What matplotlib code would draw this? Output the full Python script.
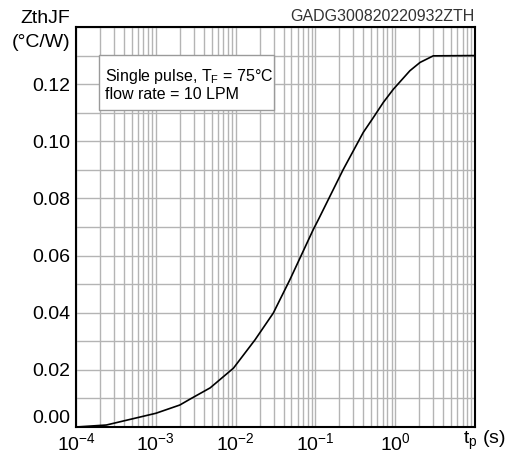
import numpy as np
import matplotlib
matplotlib.use("Agg")
import matplotlib.pyplot as plt
from matplotlib.patches import Rectangle
from matplotlib.ticker import FixedLocator, LogLocator, NullFormatter

plt.rcParams['font.family'] = ['Liberation Sans', 'DejaVu Sans']
plt.rcParams['mathtext.fontset'] = 'custom'
plt.rcParams['mathtext.rm'] = 'Liberation Sans'
plt.rcParams['mathtext.it'] = 'Liberation Sans'

# transient thermal impedance
t_pulse = [1e-4, 2.4e-4, 1e-3, 2e-3, 2.7e-3, 4.8e-3, 9.4e-3, 1.75e-2, 2.97e-2,
           4.8e-2, 9.4e-2, 0.109, 0.194, 0.224, 0.398, 0.532, 0.71, 0.947,
           1.53, 2.05, 3.0, 10.0]
zth = [0.0, 0.0007, 0.0048, 0.0077, 0.0098, 0.0137, 0.0206, 0.0305, 0.0399,
       0.0516, 0.0691, 0.0726, 0.0867, 0.0902, 0.1031, 0.1083, 0.1136, 0.1182,
       0.1247, 0.1276, 0.1299, 0.1300]

x_major = [1e-4, 1e-3, 1e-2, 1e-1, 1e0, 1e1]
x_labels = [r'$\mathregular{10^{-4}}$', r'$\mathregular{10^{-3}}$', r'$\mathregular{10^{-2}}$',
            r'$\mathregular{10^{-1}}$', r'$\mathregular{10^{0}}$', '']
y_major = [0.00, 0.02, 0.04, 0.06, 0.08, 0.10, 0.12]
y_minor = [0.01, 0.03, 0.05, 0.07, 0.09, 0.11, 0.13, 0.14]

fig = plt.figure(figsize=(5.09, 4.55), dpi=100)
ax = fig.add_axes([0.1493, 0.0615, 0.7839, 0.8792])

ax.plot(t_pulse, zth, color='black', lw=1.2, zorder=3)

ax.set_xscale('log')
ax.set_xlim(1e-4, 1e1)
ax.set_ylim(0, 0.14)
ax.set_xticks(x_major)
ax.set_xticklabels(x_labels)
ax.xaxis.set_minor_locator(LogLocator(base=10, subs=np.arange(2, 10)))
ax.xaxis.set_minor_formatter(NullFormatter())
ax.set_yticks(y_major)
ax.set_yticklabels(['%.2f' % v for v in y_major])
ax.yaxis.set_minor_locator(FixedLocator(y_minor))
ax.grid(True, which='both', color='#b4b4b4', lw=1.0, zorder=0)
ax.tick_params(which='both', length=0, labelsize=14, pad=4)
ax.get_yticklabels()[0].set_va('bottom')
for s in ax.spines.values():
    s.set_linewidth(1.5)

ax.add_patch(Rectangle((0.058, 0.7925), 0.438, 0.1375, transform=ax.transAxes,
                       facecolor='white', edgecolor='#9a9a9a', lw=1.0, zorder=4))
ax.text(0.0727, 0.877, r'Single pulse, $\mathregular{T_F}$ = 75°C', transform=ax.transAxes,
        fontsize=11.5, va='center', ha='left', zorder=5)
ax.text(0.0727, 0.83, 'flow rate = 10 LPM', transform=ax.transAxes,
        fontsize=11.5, va='center', ha='left', zorder=5)

fig.text(0.933, 0.953, 'GADG300820220932ZTH', ha='right', va='baseline',
         fontsize=11.5, color='#333333')
fig.text(0.138, 0.96, 'ZthJF', ha='right', va='center', fontsize=14)
fig.text(0.138, 0.907, '(°C/W)', ha='right', va='center', fontsize=14)
fig.text(0.91, 0.032, r'$\mathregular{t_p}$ (s)', ha='left', va='center', fontsize=14)

fig.savefig('out.png', dpi=100)
